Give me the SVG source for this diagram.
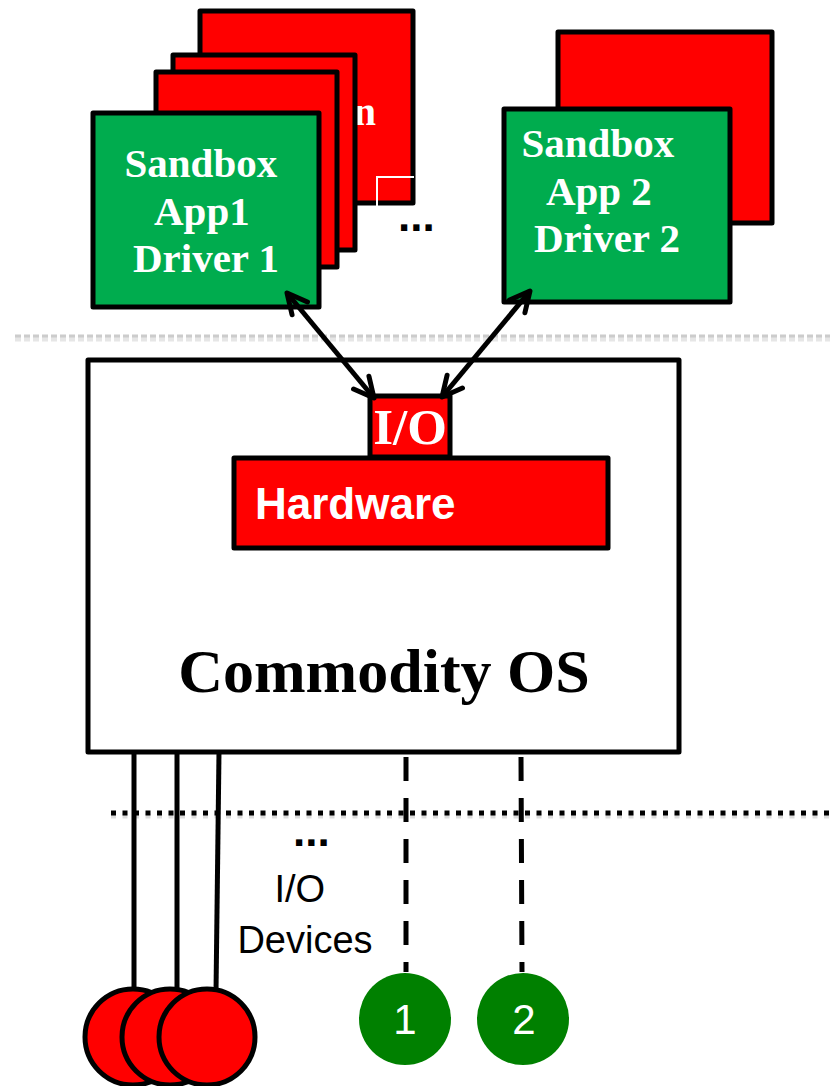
<svg xmlns="http://www.w3.org/2000/svg" width="830" height="1086" viewBox="0 0 830 1086">
  <style>
    .red { fill: #FF0000; stroke: #000; stroke-width: 5; stroke-linejoin: round; }
    .grn { fill: #00AC4E; stroke: #000; stroke-width: 5; stroke-linejoin: round; }
    .wht { fill: #FFFFFF; stroke: #000; stroke-width: 5; stroke-linejoin: round; }
    .serifw { font-family: "Liberation Serif", "DejaVu Serif", serif; font-weight: bold; fill: #FFFFFF; }
    .sansw { font-family: "Liberation Sans", Arial, sans-serif; fill: #FFFFFF; }
    .sansb { font-family: "Liberation Sans", Arial, sans-serif; fill: #000; }
    .conn { stroke: #000; stroke-width: 5; fill: none; }
  </style>
  <defs>
    <marker id="vhead" viewBox="0 0 26 26" markerUnits="userSpaceOnUse" markerWidth="26" markerHeight="26" refX="23" refY="13" orient="auto-start-reverse">
      <path d="M3,3 L23,13 L3,23" fill="none" stroke="#000" stroke-width="5" stroke-linecap="round" stroke-linejoin="round"/>
    </marker>
  </defs>

  <!-- separators -->
  <g id="separators">
    <line x1="15" y1="339" x2="830" y2="339" stroke="#e6e6e6" stroke-width="5" stroke-dasharray="6 3"/>
    <line x1="15" y1="336" x2="830" y2="336" stroke="#cccccc" stroke-width="3" stroke-dasharray="6 3"/>
    <line x1="111" y1="816" x2="830" y2="816" stroke="#dddddd" stroke-width="5" stroke-dasharray="5 6.5"/>
    <line x1="111" y1="813" x2="830" y2="813" stroke="#000" stroke-width="5" stroke-dasharray="5 6.5"/>
  </g>

  <!-- app stack 1 -->
  <g id="stack1-back">
    <rect class="red" x="200" y="11" width="213" height="192"/>
    <text class="serifw" x="376" y="125" font-size="40" text-anchor="end">n</text>
    <polyline points="377,207 377,177 414,177" fill="none" stroke="#FFFFFF" stroke-width="2"/>
  </g>
  <g id="stack1-mid1">
    <rect class="red" x="173" y="55" width="182" height="195"/>
  </g>
  <g id="stack1-mid2">
    <rect class="red" x="156" y="72" width="181" height="195"/>
  </g>
  <g id="sandbox1">
    <rect class="grn" x="93" y="113" width="226" height="194"/>
    <text class="serifw" font-size="41" text-anchor="middle">
      <tspan x="206" y="177">Sandbox</tspan>
      <tspan x="207" y="225">App1</tspan>
      <tspan x="206" y="272">Driver 1</tspan>
    </text>
  </g>
  <g id="ellipsis-top">
    <text class="sansb" x="398" y="231" font-size="44" font-weight="bold">...</text>
  </g>

  <!-- app stack 2 -->
  <g id="stack2-back">
    <rect class="red" x="558" y="32" width="214" height="191"/>
  </g>
  <g id="sandbox2">
    <rect class="grn" x="504" y="109" width="226" height="193"/>
    <text class="serifw" font-size="41" text-anchor="middle">
      <tspan x="603" y="157">Sandbox</tspan>
      <tspan x="604" y="205">App 2</tspan>
      <tspan x="607" y="252">Driver 2</tspan>
    </text>
  </g>

  <!-- Commodity OS -->
  <g id="commodity-os">
    <rect class="wht" x="88" y="360" width="591" height="392"/>
    <text x="384" y="692" font-family="Liberation Serif, DejaVu Serif, serif" font-weight="bold" font-size="62" text-anchor="middle" fill="#000">Commodity OS</text>
  </g>
  <g id="hardware">
    <rect class="red" x="234" y="458" width="374" height="90"/>
    <text class="sansw" x="255" y="519" font-size="44" font-weight="bold">Hardware</text>
  </g>
  <g id="io">
    <rect class="red" x="370" y="396" width="80" height="61"/>
    <text class="serifw" x="410" y="444" font-size="51" text-anchor="middle">I/O</text>
  </g>

  <!-- connectors -->
  <g id="connectors">
    <line class="conn" x1="287" y1="293" x2="374" y2="398" marker-start="url(#vhead)" marker-end="url(#vhead)"/>
    <line class="conn" x1="530" y1="291" x2="442" y2="397" marker-start="url(#vhead)" marker-end="url(#vhead)"/>
    <line class="conn" x1="134" y1="752" x2="134" y2="992"/>
    <line class="conn" x1="177" y1="752" x2="177" y2="992"/>
    <line class="conn" x1="219" y1="752" x2="216" y2="992"/>
    <line class="conn" x1="406" y1="757" x2="406" y2="972" stroke-dasharray="24 17"/>
    <line class="conn" x1="521" y1="757" x2="522" y2="972" stroke-dasharray="24 17"/>
  </g>

  <!-- devices -->
  <g id="device-red-1"><circle class="red" cx="133" cy="1037" r="48"/></g>
  <g id="device-red-2"><circle class="red" cx="170" cy="1037" r="48"/></g>
  <g id="device-red-3"><circle class="red" cx="207" cy="1037" r="48"/></g>
  <g id="device-1">
    <circle cx="405" cy="1019" r="46" fill="#008000"/>
    <text class="sansw" x="405" y="1034" font-size="42" text-anchor="middle">1</text>
  </g>
  <g id="device-2">
    <circle cx="523" cy="1019" r="46" fill="#008000"/>
    <text class="sansw" x="524" y="1034" font-size="42" text-anchor="middle">2</text>
  </g>
  <g id="io-devices-label">
    <text class="sansb" x="293" y="846" font-size="44" font-weight="bold">...</text>
    <text class="sansb" font-size="38" text-anchor="middle">
      <tspan x="305" y="902">I/O</tspan>
      <tspan x="305" y="953">Devices</tspan>
    </text>
  </g>
</svg>
